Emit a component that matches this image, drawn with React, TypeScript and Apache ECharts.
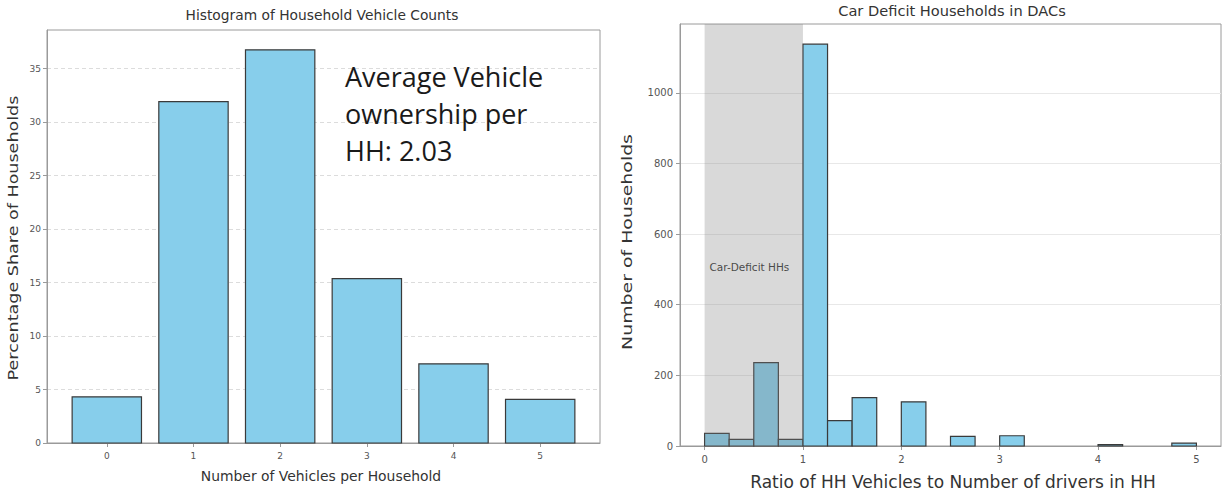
import React, { useEffect, useRef } from "react";
import * as echarts from "echarts";

// ---- Data ----
const VEHICLE_COUNTS = [0, 1, 2, 3, 4, 5];
const VEHICLE_SHARE = [4.32, 31.9, 36.75, 15.37, 7.4, 4.08];
const LEFT_Y_TICKS = [0, 5, 10, 15, 20, 25, 30, 35];

const RATIO_BIN_START = [0, 0.25, 0.5, 0.75, 1, 1.25, 1.5, 2, 2.5, 3, 4, 4.75];
const RATIO_BIN_END = [0.25, 0.5, 0.75, 1, 1.25, 1.5, 1.75, 2.25, 2.75, 3.25, 4.25, 5];
const RATIO_COUNTS = [36, 19, 236, 19, 1138, 72, 137, 125, 27, 29, 4, 8];
const RATIO_X_TICKS = [0, 1, 2, 3, 4, 5];
const RIGHT_Y_TICKS = [0, 200, 400, 600, 800, 1000];
const DEFICIT_BAND = [[0, 1, 0]];
const DEFICIT_LABEL = [[0.05, 508]];

const LEFT_TITLE = "Histogram of Household Vehicle Counts";
const RIGHT_TITLE = "Car Deficit Households in DACs";
const LEFT_X_NAME = "Number of Vehicles per Household";
const LEFT_Y_NAME = "Percentage Share of Households";
const RIGHT_X_NAME = "Ratio of HH Vehicles to Number of drivers in HH";
const RIGHT_Y_NAME = "Number of Households";
const ANNOTATION = "Average Vehicle\nownership per\nHH: 2.03";
const BAND_LABEL = "Car-Deficit HHs";

const BAR_WIDTH = 0.8;
const BAR_FILL = "#87CEEB";
const BAR_EDGE = "#3a3a3a";
const AXIS_GRAY = "#9a9a9a";
const TICK_TEXT = "#555";
const TITLE_FONT = "DejaVu Sans";

export default function App() {
  const ref = useRef<HTMLDivElement>(null);

  useEffect(() => {
    if (!ref.current) return;
    const chart = echarts.init(ref.current, null, { renderer: "svg" });

    const leftData = VEHICLE_COUNTS.map((c, i) => [c, VEHICLE_SHARE[i]]);
    const rightData = RATIO_BIN_START.map((s, i) => [s, RATIO_BIN_END[i], RATIO_COUNTS[i]]);

    const axisLine = { show: true, onZero: false, lineStyle: { color: AXIS_GRAY, width: 1 } };
    const tick = { show: true, length: 4, lineStyle: { color: AXIS_GRAY } };
    const plain = (v: number) => String(v);

    const option: any = {
      animation: false,
      backgroundColor: "#ffffff",
      grid: [
        { left: 47, top: 30, width: 553, height: 413, show: true, borderColor: AXIS_GRAY, borderWidth: 1 },
        { left: 680, top: 24, width: 541, height: 422, show: true, borderColor: AXIS_GRAY, borderWidth: 1 },
      ],
      xAxis: [
        {
          gridIndex: 0,
          type: "value",
          min: -0.69,
          max: 5.69,
          axisLine,
          axisTick: { ...tick, customValues: VEHICLE_COUNTS },
          axisLabel: { customValues: VEHICLE_COUNTS, formatter: plain, fontSize: 9, color: TICK_TEXT, margin: 8, fontFamily: TITLE_FONT },
          splitLine: { show: false },
        },
        {
          gridIndex: 1,
          type: "value",
          min: -0.25,
          max: 5.25,
          axisLine,
          axisTick: { ...tick, customValues: RATIO_X_TICKS },
          axisLabel: { customValues: RATIO_X_TICKS, formatter: plain, fontSize: 10, color: TICK_TEXT, margin: 8, fontFamily: TITLE_FONT },
          splitLine: { show: false },
        },
      ],
      yAxis: [
        {
          gridIndex: 0,
          type: "value",
          min: 0,
          max: 38.6,
          interval: 5,
          axisLine,
          axisTick: { ...tick, customValues: LEFT_Y_TICKS },
          axisLabel: { customValues: LEFT_Y_TICKS, formatter: plain, fontSize: 9, color: TICK_TEXT, margin: 6, fontFamily: TITLE_FONT },
          splitLine: { show: true, lineStyle: { type: [4, 3], color: "#dcdcdc", width: 1 } },
        },
        {
          gridIndex: 1,
          type: "value",
          min: 0,
          max: 1195,
          interval: 200,
          axisLine,
          axisTick: { ...tick, customValues: RIGHT_Y_TICKS },
          axisLabel: { customValues: RIGHT_Y_TICKS, formatter: plain, fontSize: 10, color: TICK_TEXT, margin: 7, fontFamily: TITLE_FONT },
          splitLine: { show: true, lineStyle: { color: "#e8e8e8", width: 1 } },
        },
      ],
      series: [
        {
          type: "custom",
          xAxisIndex: 0,
          yAxisIndex: 0,
          data: leftData,
          encode: { x: 0, y: 1 },
          z: 2,
          renderItem: (params: any, api: any) => {
            const x = api.value(0);
            const y = api.value(1);
            const p0 = api.coord([x - BAR_WIDTH / 2, y]);
            const p1 = api.coord([x + BAR_WIDTH / 2, 0]);
            return {
              type: "rect",
              shape: { x: p0[0], y: p0[1], width: p1[0] - p0[0], height: p1[1] - p0[1] },
              style: { fill: BAR_FILL, stroke: BAR_EDGE, lineWidth: 1.2 },
            };
          },
        },
        {
          type: "custom",
          xAxisIndex: 1,
          yAxisIndex: 1,
          data: rightData,
          encode: { x: [0, 1], y: 2 },
          z: 2,
          renderItem: (params: any, api: any) => {
            const p0 = api.coord([api.value(0), api.value(2)]);
            const p1 = api.coord([api.value(1), 0]);
            return {
              type: "rect",
              shape: { x: p0[0], y: p0[1], width: p1[0] - p0[0], height: p1[1] - p0[1] },
              style: { fill: BAR_FILL, stroke: BAR_EDGE, lineWidth: 1.2 },
            };
          },
        },
        {
          type: "custom",
          xAxisIndex: 1,
          yAxisIndex: 1,
          data: DEFICIT_BAND,
          encode: { x: [0, 1], y: 2 },
          z: 5,
          silent: true,
          renderItem: (params: any, api: any) => {
            const cs = params.coordSys;
            const p0 = api.coord([api.value(0), 0]);
            const p1 = api.coord([api.value(1), 0]);
            return {
              type: "rect",
              shape: { x: p0[0], y: cs.y, width: p1[0] - p0[0], height: cs.height },
              style: { fill: "rgba(128,128,128,0.3)" },
            };
          },
        },
        {
          type: "scatter",
          xAxisIndex: 1,
          yAxisIndex: 1,
          data: DEFICIT_LABEL,
          symbolSize: 0,
          z: 6,
          silent: true,
          label: {
            show: true,
            position: "right",
            distance: 0,
            formatter: BAND_LABEL,
            fontSize: 10.5,
            color: "#222",
            fontFamily: TITLE_FONT,
          },
        },
      ],
      graphic: [
        {
          type: "text",
          x: 322,
          y: 15,
          style: { text: LEFT_TITLE, fontSize: 13.8, fontFamily: TITLE_FONT, fill: "#333", textAlign: "center", textVerticalAlign: "middle" },
        },
        {
          type: "text",
          x: 952,
          y: 10,
          style: { text: RIGHT_TITLE, fontSize: 14.6, fontFamily: TITLE_FONT, fill: "#333", textAlign: "center", textVerticalAlign: "middle" },
        },
        {
          type: "text",
          x: 321,
          y: 476,
          style: { text: LEFT_X_NAME, fontSize: 13.9, fontFamily: TITLE_FONT, fill: "#333", textAlign: "center", textVerticalAlign: "middle" },
        },
        {
          type: "text",
          x: 953,
          y: 482,
          style: { text: RIGHT_X_NAME, fontSize: 17, fontFamily: TITLE_FONT, fill: "#333", textAlign: "center", textVerticalAlign: "middle" },
        },
        {
          type: "text",
          x: 13,
          y: 238,
          rotation: Math.PI / 2,
          scaleX: 1.3,
          style: { text: LEFT_Y_NAME, fontSize: 13.5, fontFamily: TITLE_FONT, fill: "#333", textAlign: "center", textVerticalAlign: "middle" },
        },
        {
          type: "text",
          x: 627,
          y: 242,
          rotation: Math.PI / 2,
          scaleX: 1.35,
          style: { text: RIGHT_Y_NAME, fontSize: 14, fontFamily: TITLE_FONT, fill: "#333", textAlign: "center", textVerticalAlign: "middle" },
        },
        {
          type: "text",
          x: 345,
          y: 58,
          z: 10,
          style: { text: ANNOTATION, fontSize: 27, lineHeight: 37, fontFamily: "Open Sans", fill: "#1a1a1a", textAlign: "left", textVerticalAlign: "top" },
        },
      ],
    };

    chart.setOption(option);
    return () => chart.dispose();
  }, []);

  return <div ref={ref} style={{ position: "fixed", left: 0, top: 0, width: 1225, height: 497 }} />;
}
